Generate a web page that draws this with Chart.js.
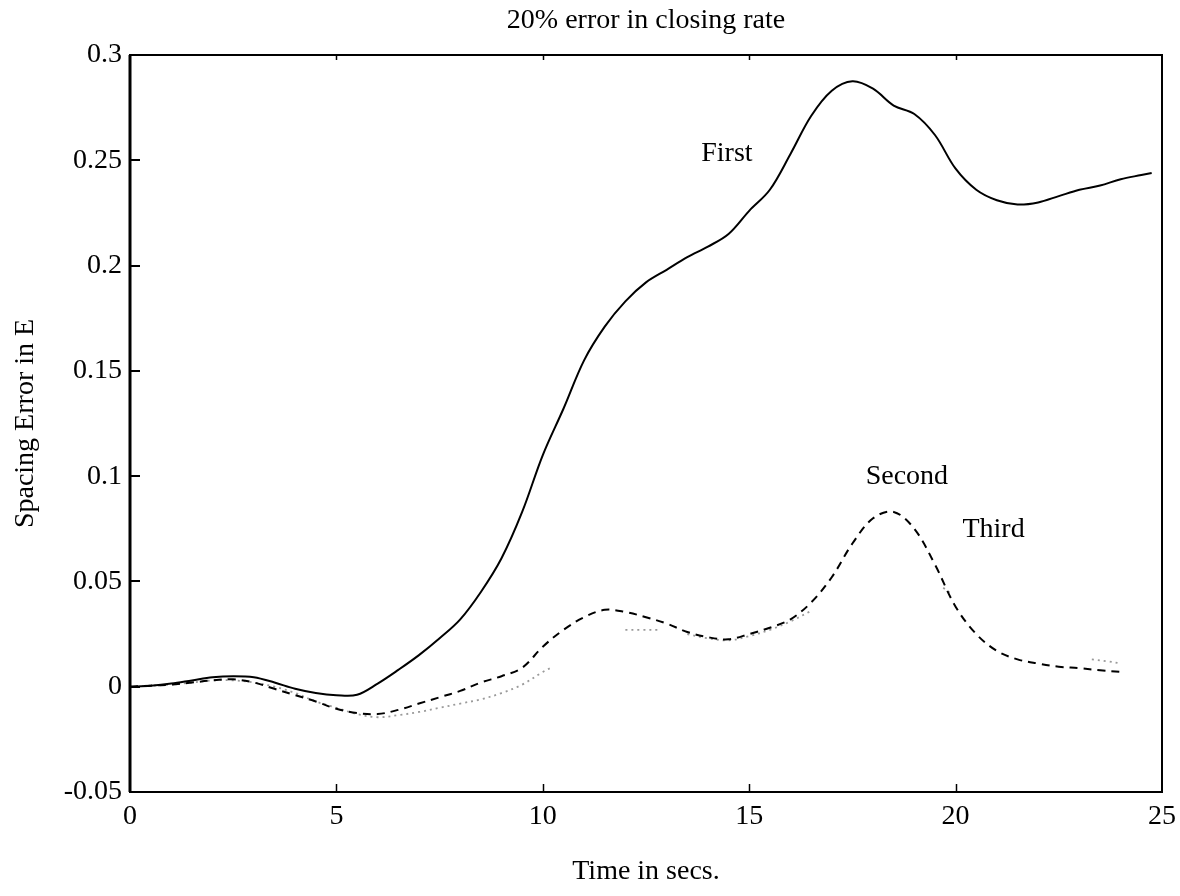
<!DOCTYPE html>
<html><head><meta charset="utf-8">
<script src="https://cdn.jsdelivr.net/npm/chart.js@4"></script>
<style>html,body{margin:0;padding:0;background:#fff}#wrap{width:1180px;height:896px}</style>
</head><body><div id="wrap"><canvas id="c" width="1180" height="896"></canvas></div>
<script>
const chartTitle = "20% error in closing rate";
const xTitle = "Time in secs.";
const yTitle = "Spacing Error in E";
const xTickValues = [0, 5, 10, 15, 20, 25];
const xTickLabels = ["0", "5", "10", "15", "20", "25"];
const yTickValues = [-0.05, 0, 0.05, 0.1, 0.15, 0.2, 0.25, 0.3];
const yTickLabels = ["-0.05", "0", "0.05", "0.1", "0.15", "0.2", "0.25", "0.3"];

// First vehicle (solid)
const tFirst = [0,0.5,1,1.5,2,2.5,3,3.5,4,4.5,5,5.5,6,6.5,7,7.5,8,8.5,9,9.5,10,10.5,11,11.5,12,12.5,13,13.5,14,14.5,15,15.5,16,16.5,17,17.5,18,18.5,19,19.5,20,20.5,21,21.5,22,22.5,23,23.5,24,24.5,24.75];
const first = [0,0.0005,0.0015,0.003,0.0045,0.005,0.0045,0.002,-0.001,-0.003,-0.004,-0.0038,0.0015,0.008,0.015,0.023,0.032,0.045,0.061,0.083,0.11,0.132,0.155,0.171,0.183,0.192,0.198,0.204,0.209,0.215,0.226,0.236,0.253,0.271,0.283,0.2875,0.284,0.276,0.272,0.262,0.246,0.236,0.231,0.229,0.230,0.233,0.236,0.238,0.241,0.243,0.244];

// Second vehicle (dashed)
const tSecond = [0,0.5,1,1.5,2,2.5,3,3.5,4,4.5,5,5.5,6,6.5,7,7.5,8,8.5,9,9.5,10,10.5,11,11.5,12,12.5,13,13.5,14,14.5,15,15.5,16,16.5,17,17.5,18,18.5,19,19.5,20,20.5,21,21.5,22,22.5,23,23.5,24];
const second = [0,0.0005,0.001,0.002,0.003,0.0035,0.002,-0.001,-0.004,-0.007,-0.0105,-0.0125,-0.013,-0.011,-0.008,-0.005,-0.002,0.002,0.005,0.009,0.019,0.027,0.033,0.0365,0.0355,0.033,0.030,0.026,0.0235,0.0225,0.025,0.028,0.032,0.040,0.052,0.068,0.080,0.083,0.075,0.058,0.038,0.025,0.017,0.013,0.011,0.0095,0.0088,0.0078,0.007];

// Third vehicle (faint dotted, partially visible in the scan; null = not visible)
const tThird = [0,0.5,1,1.5,2,2.5,3,3.5,4,4.5,5,5.5,6,6.5,7,7.5,8,8.5,9,9.5,10,10.2,11,12,12.4,12.8,13.1,13.5,14,14.5,15,15.5,16,16.5,18,19.7,19.9,21,23.3,23.7,24];
const third = [0,0.0005,0.001,0.002,0.003,0.003,0.002,0,-0.003,-0.007,-0.010,-0.013,-0.0145,-0.0135,-0.012,-0.010,-0.008,-0.006,-0.003,0.001,0.007,0.009,null,0.027,0.027,0.027,null,0.025,0.023,0.022,0.024,0.027,0.031,0.036,null,0.047,0.044,null,0.013,0.012,0.011];

// Curve labels (placed in data coordinates)
const curveLabels = ["First", "Second", "Third"];
const labelT = [14.46, 18.82, 20.92];
const labelV = [0.253, 0.1, 0.0748];

const serif = "'Liberation Serif', 'Times New Roman', serif";
const pts = (xs, ys) => xs.map((x, i) => ({x: x, y: ys[i]}));

const decor = {
  id: 'decor',
  afterDatasetsDraw(chart) {
    const {ctx, chartArea: a, scales: {x, y}} = chart;
    ctx.save();
    ctx.strokeStyle = '#000';
    ctx.lineWidth = 2;
    ctx.strokeRect(a.left, a.top, a.right - a.left, a.bottom - a.top);
    ctx.lineWidth = 3;
    ctx.beginPath(); ctx.moveTo(a.left, a.top); ctx.lineTo(a.left, a.bottom); ctx.stroke();
    ctx.lineWidth = 2;
    yTickValues.forEach(v => {
      const py = Math.round(y.getPixelForValue(v));
      ctx.beginPath(); ctx.moveTo(a.left, py); ctx.lineTo(a.left + 10, py); ctx.stroke();
    });
    ctx.lineWidth = 1.5;
    xTickValues.slice(1, -1).forEach(v => {
      const px = Math.round(x.getPixelForValue(v)) + 0.5;
      ctx.beginPath(); ctx.moveTo(px, a.bottom); ctx.lineTo(px, a.bottom - 8); ctx.stroke();
      ctx.beginPath(); ctx.moveTo(px, a.top); ctx.lineTo(px, a.top + 5); ctx.stroke();
    });
    ctx.fillStyle = '#000';
    ctx.font = '28px ' + serif;
    ctx.textAlign = 'center';
    ctx.textBaseline = 'middle';
    ctx.fillText(chartTitle, (a.left + a.right) / 2, 21);
    curveLabels.forEach((t, i) => {
      ctx.fillText(t, x.getPixelForValue(labelT[i]), y.getPixelForValue(labelV[i]));
    });
    ctx.restore();
  }
};

new Chart(document.getElementById('c'), {
  type: 'line',
  data: {
    datasets: [
      {label: 'First', data: pts(tFirst, first), borderColor: '#000', borderWidth: 2, pointRadius: 0, tension: 0.35, fill: false},
      {label: 'Second', data: pts(tSecond, second), borderColor: '#000', borderWidth: 2, borderDash: [8, 6], pointRadius: 0, tension: 0.35, fill: false},
      {label: 'Third', data: pts(tThird, third), borderColor: '#9a9a9a', borderWidth: 1.8, borderDash: [2, 4], pointRadius: 0, tension: 0.35, fill: false, spanGaps: false}
    ]
  },
  options: {
    responsive: false,
    animation: false,
    devicePixelRatio: 1,
    layout: {padding: {top: 55, right: 18, left: 0, bottom: 0}},
    plugins: {legend: {display: false}, title: {display: false}, tooltip: {enabled: false}},
    scales: {
      x: {
        type: 'linear', min: 0, max: 25,
        afterBuildTicks: s => { s.ticks = xTickValues.map(v => ({value: v})); },
        afterFit: s => { s.height = 104; s.paddingLeft = 0; s.paddingRight = 0; },
        grid: {display: false, drawTicks: false},
        border: {display: false},
        ticks: {padding: 8, color: '#000', font: {family: serif, size: 28}, maxRotation: 0,
                callback: (v) => xTickLabels[xTickValues.indexOf(v)]},
        title: {display: true, text: xTitle, color: '#000', font: {family: serif, size: 28}, padding: {top: 0, bottom: 8}}
      },
      y: {
        type: 'linear', min: -0.05, max: 0.3,
        afterBuildTicks: s => { s.ticks = yTickValues.map(v => ({value: v})); },
        afterFit: s => { s.width = 130; },
        grid: {display: false, drawTicks: false},
        border: {display: false},
        ticks: {padding: 8, color: '#000', font: {family: serif, size: 28},
                callback: (v) => { const i = yTickValues.findIndex(t => Math.abs(t - v) < 1e-9); return i >= 0 ? yTickLabels[i] : ''; }},
        title: {display: true, text: yTitle, color: '#000', font: {family: serif, size: 28}, padding: {top: 9, bottom: 0}}
      }
    }
  },
  plugins: [decor]
});
</script>
</body></html>
